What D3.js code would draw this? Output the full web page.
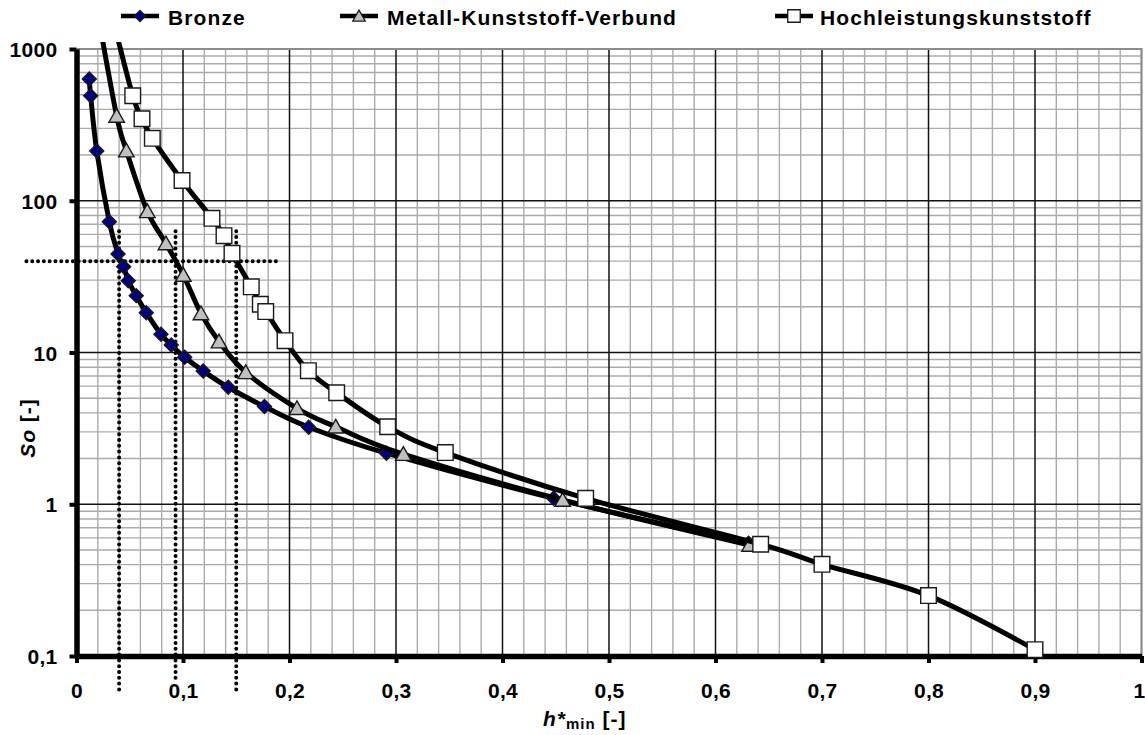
<!DOCTYPE html>
<html>
<head>
<meta charset="utf-8">
<script src="https://cdnjs.cloudflare.com/ajax/libs/d3/7.8.5/d3.min.js"></script>
<style>
body{margin:0;background:#fff;overflow:hidden;}
text{font-family:Arial,"Liberation Sans",sans-serif;font-weight:bold;fill:#000;}
</style>
</head>
<body>
<svg id="chart" width="1145" height="735"></svg>
<script>
//Series data (h*min, So)
var bronzeH  = [0.012,0.0133,0.019,0.0308,0.039,0.0443,0.0486,0.0561,0.0655,0.0793,0.089,0.1016,0.119,0.1425,0.1765,0.218,0.291,0.448,0.631];
var bronzeSo = [634,492,213,72.8,44.6,36.8,29.7,23.7,18.3,13.2,11.2,9.3,7.55,5.9,4.4,3.22,2.17,1.094,0.553];

//first point lies above 1000, only the line is visible
var verbundH  = [0.0215,0.0377,0.0468,0.0665,0.084,0.1003,0.1169,0.1338,0.1589,0.207,0.2434,0.3069,0.4565,0.632];
var verbundSo = [1500,362,214,85.2,52.3,32.4,18.1,11.8,7.4,4.29,3.24,2.14,1.067,0.539];

var kunststoffH  = [0.035,0.0528,0.0615,0.0712,0.0991,0.1272,0.1385,0.146,0.1641,0.1726,0.1777,0.1958,0.2177,0.2443,0.2922,0.3463,0.4781,0.6424,0.7,0.8,0.9];
var kunststoffSo = [1500,492,347,258,136,76.6,58.9,45.1,27.1,20.8,18.6,11.97,7.59,5.43,3.24,2.19,1.094,0.545,0.402,0.25,0.11];

var seriesNames = ["Bronze","Metall-Kunststoff-Verbund","Hochleistungskunststoff"];

//Dotted reading lines
var guideH = [0.04,0.093,0.15];
var guideTopSo = 63;
var guideBottomSo = [0.06,0.07,0.06];
var guideSo = 40;
var guideFromH = -0.047;
var guideToH = 0.19;

//Tick values
var xTicks = [0,0.1,0.2,0.3,0.4,0.5,0.6,0.7,0.8,0.9,1];
var yTicks = [0.1,1,10,100,1000];

//Layout
var plotLeft = 76.5, plotRight = 1141.5, plotTop = 49, plotBottom = 656;
var svg = d3.select("#chart");

var x = d3.scaleLinear().domain([0,1]).range([plotLeft,plotRight]);
var y = d3.scaleLog().domain([0.1,1000]).range([plotBottom,plotTop]);

var deLocale = d3.formatLocale({decimal:",",thousands:".",grouping:[3],currency:["","€"]});
var fmt = deLocale.format("~g");

//---grid---
var grid = svg.append("g");
var minorX = d3.range(1,50).filter(function(i){return i%5!=0;}).map(function(i){return i/50;});
var minorY = [];
[0.1,1,10,100].forEach(function(d){
  for(var k=2;k<10;k++){ minorY.push(d*k); }
});
grid.selectAll(".mx").data(minorX).enter().append("line")
  .attr("x1",function(d){return x(d);}).attr("x2",function(d){return x(d);})
  .attr("y1",plotTop).attr("y2",plotBottom)
  .attr("stroke","#ababab").attr("stroke-width",1.4);
grid.selectAll(".my").data(minorY).enter().append("line")
  .attr("x1",plotLeft).attr("x2",plotRight)
  .attr("y1",function(d){return y(d);}).attr("y2",function(d){return y(d);})
  .attr("stroke","#ababab").attr("stroke-width",1.4);
grid.selectAll(".MX").data(xTicks.slice(1,10)).enter().append("line")
  .attr("x1",function(d){return x(d);}).attr("x2",function(d){return x(d);})
  .attr("y1",plotTop).attr("y2",plotBottom)
  .attr("stroke","#111").attr("stroke-width",1.5);
grid.selectAll(".MY").data([1,10,100]).enter().append("line")
  .attr("x1",plotLeft).attr("x2",plotRight)
  .attr("y1",function(d){return y(d);}).attr("y2",function(d){return y(d);})
  .attr("stroke","#111").attr("stroke-width",1.5);
//plot border (top and right)
grid.append("path")
  .attr("d","M"+plotLeft+","+y(1000)+"H"+x(1)+"V"+plotBottom)
  .attr("fill","none").attr("stroke","#8c8c8c").attr("stroke-width",2.2);

//---axes---
var xAxis = svg.append("g").attr("transform","translate(0,"+plotBottom+")")
  .call(d3.axisBottom(x).tickValues(xTicks).tickFormat(fmt).tickSize(7).tickSizeOuter(0));
var yAxis = svg.append("g").attr("transform","translate("+plotLeft+",0)")
  .call(d3.axisLeft(y).tickValues(yTicks).tickFormat(fmt).tickSize(7).tickSizeOuter(0));
[xAxis,yAxis].forEach(function(a){
  a.select(".domain").attr("stroke","#000").attr("stroke-width",5.5);
  a.selectAll(".tick line").attr("stroke","#000").attr("stroke-width",4);
  a.selectAll(".tick text").attr("font-size",21).attr("font-family","Arial, 'Liberation Sans', sans-serif")
    .attr("font-weight","bold").attr("letter-spacing","0.3px").attr("fill","#000");
});
xAxis.selectAll(".tick text").attr("y",34).attr("dy","0.36em");
//last label sits on the window edge
xAxis.selectAll(".tick text").filter(function(d){return d==1;}).attr("text-anchor","end").attr("x",3.5);
yAxis.selectAll(".tick text").attr("x",-19).attr("dy","0.36em");

//---dotted guides---
var guides = svg.append("g").attr("stroke","#000").attr("stroke-width",4)
  .attr("stroke-linecap","round").attr("stroke-dasharray","0 5.8").attr("fill","none");
guides.selectAll("line.v").data(guideH).enter().append("line")
  .attr("x1",function(d){return x(d);}).attr("x2",function(d){return x(d);})
  .attr("y1",y(guideTopSo)).attr("y2",function(d,i){return y(guideBottomSo[i]);});
guides.append("line")
  .attr("x1",x(guideFromH)).attr("x2",x(guideToH))
  .attr("y1",y(guideSo)).attr("y2",y(guideSo));

//---series---
svg.append("clipPath").attr("id","clip").append("rect")
  .attr("x",plotLeft).attr("y",42).attr("width",1145-plotLeft).attr("height",plotBottom-38);

function diamondPath(s){ return "M0,"+(-s)+"L"+s+",0L0,"+s+"L"+(-s)+",0Z"; }
function trianglePath(s){ return "M0,"+(-s)+"L"+(s*1.05)+","+(s*0.85)+"L"+(-s*1.05)+","+(s*0.85)+"Z"; }
function squarePath(s){ return "M"+(-s)+","+(-s)+"H"+s+"V"+s+"H"+(-s)+"Z"; }

var series = [
  {h:bronzeH, so:bronzeSo, shape:diamondPath, size:7, fill:"#000080"},
  {h:verbundH, so:verbundSo, shape:trianglePath, size:7.4, fill:"#c0c0c0"},
  {h:kunststoffH, so:kunststoffSo, shape:squarePath, size:7.8, fill:"#ffffff"}
];

var line = d3.line()
  .x(function(d){return x(d[0]);})
  .y(function(d){return y(d[1]);})
  .curve(d3.curveCardinal.tension(0));

series.forEach(function(s){
  var pts = s.h.map(function(h,i){return [h,s.so[i]];});
  var g = svg.append("g");
  g.append("path").datum(pts).attr("d",line).attr("clip-path","url(#clip)")
    .attr("fill","none").attr("stroke","#000").attr("stroke-width",5).attr("stroke-linejoin","round");
  g.selectAll("path.m").data(pts.filter(function(p){return p[1]<=1000;})).enter().append("path")
    .attr("transform",function(d){return "translate("+x(d[0])+","+y(d[1])+")";})
    .attr("d",s.shape(s.size)).attr("fill",s.fill).attr("stroke","#1a1a1a").attr("stroke-width",1.4);
});

//---legend---
var legendX = [121,340,775];
var legendTextX = [168,387,820];
var legend = svg.append("g");
series.forEach(function(s,i){
  legend.append("line").attr("x1",legendX[i]).attr("x2",legendX[i]+38).attr("y1",16).attr("y2",16)
    .attr("stroke","#000").attr("stroke-width",4.5);
  legend.append("path").attr("transform","translate("+(legendX[i]+19)+",16)")
    .attr("d",s.shape(s.size*0.8)).attr("fill",s.fill).attr("stroke","#1a1a1a").attr("stroke-width",1.3);
  legend.append("text").attr("x",legendTextX[i]).attr("y",25).attr("font-size",21)
    .attr("letter-spacing","1.1px").text(seriesNames[i]);
});

//---axis titles---
var yTitle = svg.append("text").attr("transform","translate(27,428) rotate(-90)")
  .attr("text-anchor","middle").attr("dy","0.36em").attr("font-size",21).attr("letter-spacing","1px");
yTitle.append("tspan").attr("font-style","italic").text("So");
yTitle.append("tspan").text(" [-]");

var xTitle = svg.append("text").attr("x",543).attr("y",726).attr("font-size",21).attr("letter-spacing","1px");
xTitle.append("tspan").attr("font-style","italic").text("h*");
xTitle.append("tspan").attr("font-size",15).attr("dy",3).text("min");
xTitle.append("tspan").attr("dy",-3).text(" [-]");
</script>
</body>
</html>
